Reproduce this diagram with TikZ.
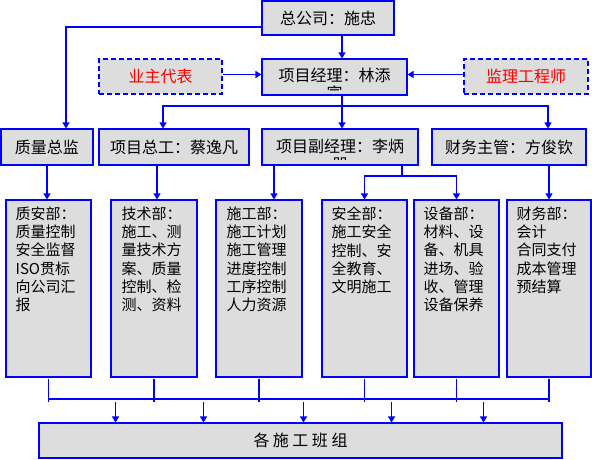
\documentclass[tikz,border=0pt]{standalone}
\usepackage{fontspec}
\setmainfont{Noto Sans CJK SC}
\usepackage{xcolor}
\usepackage{tikz}
\usetikzlibrary{arrows.meta, calc}
\definecolor{boxgray}{HTML}{DDDDDD}
\definecolor{lineblue}{HTML}{0000FF}
\definecolor{ownerred}{HTML}{FF0000}
\tikzset{
  >=latex,  % frecce
  % Riquadri
  box/.style={draw=lineblue,fill=boxgray,line width=1.1pt,inner sep=0,minimum height=36pt,font=\fontsize{16}{18}\selectfont},
  box dashed/.style={box,dash pattern=on 5pt off 3pt,text=ownerred,minimum height=35pt},
  box dept/.style={box,minimum width=86pt,minimum height=177pt},
  box text/.style={anchor=north,inner sep=0,align=center,font=\fontsize{16}{18}\selectfont},
  dept text/.style={anchor=north west,inner sep=0,align=left,font=\fontsize{15}{18.3}\selectfont},
  % Connessioni
  connect/.style={line width=1.1pt,lineblue},
  connect arrow/.style={connect,-{Triangle[length=6pt,width=7pt]}}
}

\begin{document}
\begin{tikzpicture}[x=1pt,y=-1pt]
    \useasboundingbox (0,0) rectangle (592,459);
    % livello 1
    \node[box, minimum width=132pt, minimum height=34pt] (company) at (328,18) {总公司：施忠};
    \node[box dashed, minimum width=123pt] (owner) at (160.5,76.5) {业主代表};
    \node[box, minimum width=145pt] (pm) at (334.5,77) {};
    \node[box dashed, minimum width=124pt] (supervisor) at (526,76.5) {监理工程师};
    \begin{scope}
      \clip ([shift={(0.6pt,5.5pt)}]pm.south west) rectangle (pm.north east);
      \node[box text] (pmtext) at ([yshift=-9pt]pm.north) {项目经理：林添\\富};
    \end{scope}
    % livello 2
    \node[box, minimum width=92pt] (quality) at (47,147) {质量总监};
    \node[box, minimum width=150pt] (chiefeng) at (174,147) {项目总工：蔡逸凡};
    \node[box, minimum width=156pt] (deputy) at (340,147) {};
    \node[box, minimum width=154pt] (finance) at (509,147) {财务主管：方俊钦};
    \begin{scope}
      \clip ([shift={(0.6pt,6pt)}]deputy.south west) rectangle (deputy.north east);
      \node[box text] (deputytext) at ([yshift=-10pt]deputy.north) {项目副经理：李炳\\器};
    \end{scope}
    % livello 3: reparti
    \node[box dept, minimum width=85pt] (zhian) at (48.5,288.5) {};
    \node[box dept] (jishu) at (154,288.5) {};
    \node[box dept] (shigong) at (259,288.5) {};
    \node[box dept, minimum width=85pt] (anquan) at (364.5,288.5) {};
    \node[box dept, minimum width=85pt] (shebei) at (456.5,288.5) {};
    \node[box dept, minimum width=84pt] (caiwu) at (549,288.5) {};
    \node[dept text] (zhiantext) at ([xshift=10pt,yshift=-7pt]zhian.north west)
      {质安部：\\质量控制\\安全监督\\ISO贯标\\向公司汇\\报};
    \node[dept text] (jishutext) at ([xshift=11pt,yshift=-7pt]jishu.north west)
      {技术部：\\施工、测\\量技术方\\案、质量\\控制、检\\测、资料};
    \node[dept text] (shigongtext) at ([xshift=11pt,yshift=-7pt]shigong.north west)
      {施工部：\\施工计划\\施工管理\\进度控制\\工序控制\\人力资源};
    \node[dept text] (anquantext) at ([xshift=10pt,yshift=-7pt]anquan.north west)
      {安全部：\\施工安全\\控制、安\\全教育、\\文明施工};
    \node[dept text] (shebeitext) at ([xshift=10pt,yshift=-7pt]shebei.north west)
      {设备部：\\材料、设\\备、机具\\进场、验\\收、管理\\设备保养};
    \node[dept text] (caiwutext) at ([xshift=10pt,yshift=-7pt]caiwu.north west)
      {财务部：\\会计\\合同支付\\成本管理\\预结算};
    % livello 4
    \node[box, minimum width=523pt, minimum height=35pt] (banzu) at (300.5,440.5)
      {各\hspace{3.5pt}施\hspace{3.5pt}工\hspace{3.5pt}班\hspace{3.5pt}组};

    % connessioni livello 1
    \draw[connect arrow] ([yshift=-9pt]company.west) -| ([xshift=19pt]quality.north);
    \draw[connect arrow] ([xshift=14pt]company.south) -- ([xshift=14pt]company.south |- pm.north);
    \draw[connect arrow] ([yshift=2pt]owner.east) -- ([yshift=2pt]owner.east -| pm.west);
    \draw[connect arrow] ([yshift=2pt]supervisor.west) -- ([yshift=2pt]supervisor.west -| pm.east);
    % connessioni livello 2
    \coordinate (bus1) at ([xshift=7.5pt]pm.south |- 0,106);
    \draw[connect] ([xshift=7.5pt]pm.south) -- (bus1);
    \draw[connect arrow] (bus1) -| ([xshift=-11pt]chiefeng.north);
    \draw[connect arrow] (bus1) -- (bus1 |- deputy.north);
    \draw[connect arrow] (bus1) -| ([xshift=39pt]finance.north);
    % connessioni livello 3
    \draw[connect arrow] (quality.south) -- (quality.south |- zhian.north);
    \draw[connect arrow] ([xshift=3pt]chiefeng.south -| jishu.north) -- ([xshift=3pt]jishu.north);
    \draw[connect arrow] ([xshift=15pt]shigong.north |- deputy.south) -- ([xshift=15pt]shigong.north);
    \coordinate (bus2) at ([xshift=62pt]deputy.south |- 0,176);
    \draw[connect] ([xshift=62pt]deputy.south) -- (bus2);
    \draw[connect arrow] (bus2) -| (anquan.north);
    \draw[connect arrow] (bus2) -| (shebei.north);
    \draw[connect arrow] (finance.south -| caiwu.north) -- (caiwu.north);
    % connessioni livello 4
    \coordinate (bus3) at (0,399);
    \foreach \dept in {zhian,jishu,shigong,anquan,shebei,caiwu}
      \draw[connect] ([yshift=-1pt]\dept.south) -- ([yshift=-3pt]\dept.south |- bus3);
    \draw[connect] (zhian.south |- bus3) -- (caiwu.south |- bus3);
    \foreach \dx in {-185,-97,3,91,183}
      \draw[connect arrow] ([xshift=\dx pt,yshift=20pt]banzu.north) -- ([xshift=\dx pt]banzu.north);
  \end{tikzpicture}
\end{document}
